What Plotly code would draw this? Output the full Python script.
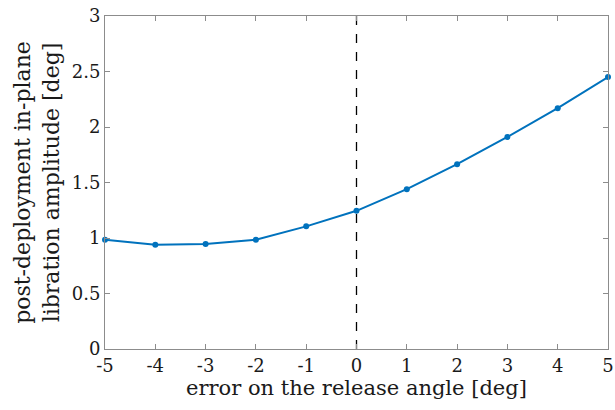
import plotly.graph_objects as go

x_err = [-5, -4, -3, -2, -1, 0, 1, 2, 3, 4, 5]
amplitude = [0.985, 0.94, 0.945, 0.985, 1.105, 1.245, 1.44, 1.665, 1.91, 2.17, 2.45]
x_ticks = [-5, -4, -3, -2, -1, 0, 1, 2, 3, 4, 5]
x_tick_text = ["-5", "-4", "-3", "-2", "-1", "0", "1", "2", "3", "4", "5"]
y_ticks = [0, 0.5, 1, 1.5, 2, 2.5, 3]
y_tick_text = ["0", "0.5", "1", "1.5", "2", "2.5", "3"]

FONT = "DejaVu Serif"

fig = go.Figure()
fig.add_trace(go.Scatter(
    x=x_err, y=amplitude, mode="lines+markers",
    line=dict(color="#0072BD", width=2),
    marker=dict(color="#0072BD", size=6),
    showlegend=False,
    cliponaxis=False,
))
fig.add_trace(go.Scatter(
    x=[0, 0], y=[0, 3], mode="lines",
    line=dict(color="black", width=1.3, dash="dash"),
    showlegend=False,
))

axis_common = dict(
    showgrid=False, zeroline=False, showline=True, linecolor="#8c8c8c",
    linewidth=1, mirror="ticks", ticks="inside", ticklen=5, tickcolor="#8c8c8c",
    ticklabeloverflow="allow",
    tickfont=dict(family=FONT, size=18, color="#1a1a1a"),
)
fig.update_xaxes(
    range=[-5, 5], tickvals=x_ticks, ticktext=x_tick_text,
    title=dict(text="error on the release angle [deg]", font=dict(family=FONT, size=21, color="#1a1a1a"), standoff=1),
    **axis_common,
)
fig.update_yaxes(
    range=[0, 3], tickvals=y_ticks, ticktext=y_tick_text,
    title=dict(text="post-deployment in-plane<br>libration amplitude [deg]", font=dict(family=FONT, size=22, color="#1a1a1a"), standoff=6),
    **axis_common,
)
fig.update_layout(
    width=615, height=410,
    margin=dict(l=105, r=1, t=16, b=61),
    plot_bgcolor="white", paper_bgcolor="white",
    font=dict(family=FONT),
)
fig.write_html("out.html")
